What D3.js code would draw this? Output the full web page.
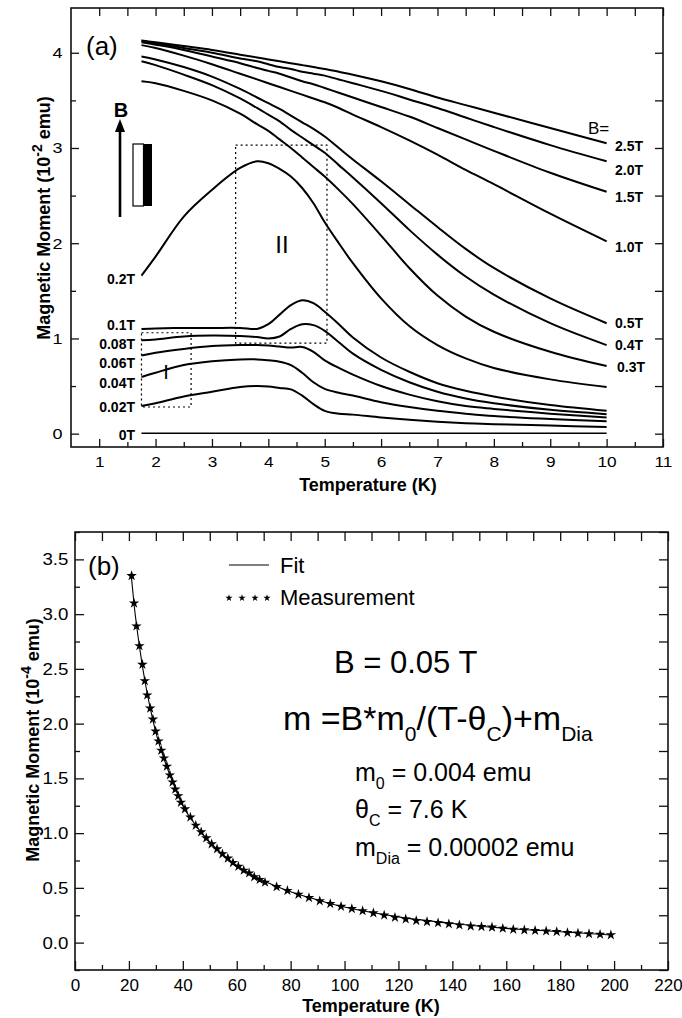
<!DOCTYPE html>
<html>
<head>
<meta charset="utf-8">
<script src="https://cdn.jsdelivr.net/npm/d3@7"></script>
<style>
  body { margin: 0; background: #fff; }
  svg { display: block; }
  text { font-family: "Liberation Sans", Arial, sans-serif; fill: #000; }
</style>
</head>
<body>
<svg id="fig" width="682" height="1018"></svg>
<script>
// ---------------- panel (a): M(T) at different fields ----------------
var tGrid = [1.75, 2, 2.5, 3, 3.5, 3.8, 4, 4.2, 4.4, 4.6, 4.8, 5, 5.25, 5.5, 6, 6.5, 7, 7.5, 8, 9, 10];

var m2p5T = [4.13, 4.11, 4.07, 4.03, 3.98, 3.95, 3.93, 3.91, 3.89, 3.87, 3.85, 3.83, 3.80, 3.77, 3.70, 3.62, 3.53, 3.45, 3.37, 3.21, 3.05];
var m2p0T = [4.125, 4.10, 4.05, 4.00, 3.94, 3.91, 3.88, 3.85, 3.83, 3.80, 3.78, 3.76, 3.72, 3.68, 3.60, 3.51, 3.42, 3.32, 3.22, 3.03, 2.86];
var m1p5T = [4.11, 4.085, 4.03, 3.96, 3.89, 3.84, 3.81, 3.78, 3.74, 3.70, 3.67, 3.63, 3.58, 3.53, 3.43, 3.33, 3.21, 3.09, 2.97, 2.74, 2.54];
var m1p0T = [4.08, 4.05, 3.97, 3.88, 3.78, 3.72, 3.68, 3.64, 3.60, 3.56, 3.52, 3.48, 3.42, 3.35, 3.22, 3.08, 2.93, 2.77, 2.62, 2.31, 2.02];
var m0p5T = [3.96, 3.93, 3.85, 3.75, 3.62, 3.53, 3.47, 3.41, 3.34, 3.27, 3.20, 3.12, 3.00, 2.88, 2.65, 2.41, 2.17, 1.94, 1.74, 1.42, 1.16];
var m0p4T = [3.91, 3.87, 3.77, 3.66, 3.52, 3.42, 3.35, 3.28, 3.19, 3.11, 3.03, 2.95, 2.82, 2.69, 2.42, 2.14, 1.88, 1.65, 1.46, 1.16, 0.93];
var m0p3T = [3.70, 3.68, 3.60, 3.50, 3.36, 3.25, 3.18, 3.09, 3.00, 2.90, 2.80, 2.70, 2.56, 2.41, 2.08, 1.74, 1.45, 1.23, 1.07, 0.86, 0.71];
var m0p2T = [1.66, 1.86, 2.28, 2.56, 2.79, 2.86, 2.84, 2.78, 2.70, 2.58, 2.42, 2.22, 2.00, 1.79, 1.42, 1.13, 0.93, 0.79, 0.69, 0.57, 0.49];
var m0p1T = [1.10, 1.105, 1.11, 1.11, 1.11, 1.10, 1.15, 1.25, 1.35, 1.40, 1.37, 1.28, 1.15, 1.01, 0.80, 0.65, 0.53, 0.45, 0.39, 0.30, 0.24];
var m0p08T = [0.98, 0.99, 1.02, 1.03, 1.025, 1.015, 1.00, 1.02, 1.10, 1.15, 1.14, 1.08, 0.96, 0.84, 0.67, 0.54, 0.44, 0.37, 0.32, 0.25, 0.205];
var m0p06T = [0.82, 0.85, 0.89, 0.92, 0.93, 0.93, 0.925, 0.915, 0.905, 0.91, 0.86, 0.77, 0.69, 0.62, 0.50, 0.41, 0.34, 0.29, 0.26, 0.21, 0.17];
var m0p04T = [0.595, 0.64, 0.72, 0.76, 0.78, 0.78, 0.77, 0.755, 0.72, 0.64, 0.54, 0.47, 0.43, 0.40, 0.33, 0.28, 0.24, 0.21, 0.185, 0.155, 0.13];
var m0p02T = [0.29, 0.32, 0.39, 0.44, 0.49, 0.50, 0.495, 0.48, 0.465, 0.40, 0.31, 0.24, 0.21, 0.20, 0.17, 0.145, 0.125, 0.11, 0.10, 0.085, 0.07];
var m0T = [0.005, 0.005, 0.005, 0.005, 0.005, 0.005, 0.005, 0.005, 0.005, 0.005, 0.005, 0.005, 0.005, 0.005, 0.005, 0.005, 0.005, 0.005, 0.005, 0.005, 0.005];

var fieldNames = ["2.5T", "2.0T", "1.5T", "1.0T", "0.5T", "0.4T", "0.3T", "0.2T", "0.1T", "0.08T", "0.06T", "0.04T", "0.02T", "0T"];
var fieldCurves = [m2p5T, m2p0T, m1p5T, m1p0T, m0p5T, m0p4T, m0p3T, m0p2T, m0p1T, m0p08T, m0p06T, m0p04T, m0p02T, m0T];

// dotted boxes: [T0, T1, m0, m1]
var boxII = [3.42, 5.04, 0.95, 3.03];
var boxI = [1.75, 2.63, 0.28, 1.06];

var xTicksA = [1, 2, 3, 4, 5, 6, 7, 8, 9, 10, 11];
var yTicksA = [0, 1, 2, 3, 4];

// ---------------- panel (b): B = 0.05 T ----------------
var measT = [21.0, 21.9, 22.8, 23.9, 25.0, 25.9, 26.8, 27.9, 28.9, 29.9, 31.0, 32.0, 33.0, 34.1, 35.2, 36.2, 37.2, 38.3, 39.3, 40.8,
  42.8, 44.8, 46.8, 48.7, 50.7, 52.7, 54.7, 56.7, 58.6, 60.6, 62.6, 64.6, 66.5, 68.5, 70.5, 74.8, 78.8, 82.9, 86.8, 90.8,
  94.7, 98.7, 102.7, 106.7, 110.7, 114.7, 118.7, 122.7, 126.6, 130.6, 134.7, 138.7, 142.6, 146.8, 150.8, 154.7, 158.7, 162.6, 166.7, 170.7,
  174.8, 178.7, 182.7, 186.6, 190.7, 194.8, 198.8];
var measM = [3.35, 3.10, 2.89, 2.71, 2.54, 2.39, 2.26, 2.14, 2.04, 1.93, 1.84, 1.755, 1.685, 1.61, 1.53, 1.465, 1.40, 1.34, 1.28, 1.22,
  1.145, 1.07, 1.01, 0.955, 0.90, 0.855, 0.81, 0.77, 0.73, 0.695, 0.66, 0.635, 0.60, 0.575, 0.55, 0.51, 0.475, 0.44, 0.41, 0.38,
  0.355, 0.33, 0.31, 0.29, 0.27, 0.25, 0.23, 0.215, 0.20, 0.19, 0.18, 0.17, 0.16, 0.15, 0.145, 0.14, 0.13, 0.12, 0.115, 0.11,
  0.105, 0.10, 0.09, 0.085, 0.08, 0.075, 0.07];

var fitT = [20.8, 22, 24, 26, 28, 30, 33, 36, 40, 45, 50, 55, 60, 70, 80, 90, 100, 120, 140, 160, 180, 199];
var fitM = [3.37, 3.07, 2.69, 2.38, 2.13, 1.92, 1.68, 1.48, 1.25, 1.065, 0.92, 0.80, 0.705, 0.565, 0.465, 0.39, 0.325, 0.235, 0.175, 0.13, 0.10, 0.07];

var xTicksB = [0, 20, 40, 60, 80, 100, 120, 140, 160, 180, 200, 220];
var yTicksB = [0, 0.5, 1, 1.5, 2, 2.5, 3, 3.5];

// ---------------- drawing ----------------
var svg = d3.select("#fig");

function frameAxes(g, x, y, o) {
  var x0 = x.range()[0], x1 = x.range()[1], y0 = y.range()[0], y1 = y.range()[1];
  var h = y0 - y1, w = x1 - x0;
  function noDomain(sel) { sel.select(".domain").remove(); sel.selectAll("line").attr("stroke", "#111").attr("stroke-width", 1.3); }

  // bottom axis with labels
  var bx = g.append("g").attr("transform", "translate(0," + y0 + ")")
    .call(d3.axisBottom(x).tickValues(o.xTicks).tickSize(-o.major).tickPadding(o.pad).tickFormat(o.xFmt));
  noDomain(bx);
  bx.selectAll("text").attr("font-size", o.fs).attr("transform", "scale(" + o.sxX + ",1)");
  g.append("g").attr("transform", "translate(0," + y0 + ")")
    .call(d3.axisBottom(x).tickValues(o.xMinor).tickSize(-o.minor).tickFormat("")).call(noDomain);
  g.append("g").attr("transform", "translate(0," + y1 + ")")
    .call(d3.axisTop(x).tickValues(o.xTicks.concat(o.xMinor)).tickSize(-o.major).tickFormat("")).call(noDomain);

  var ly = g.append("g").attr("transform", "translate(" + x0 + ",0)")
    .call(d3.axisLeft(y).tickValues(o.yTicks).tickSize(-o.major).tickPadding(o.padY).tickFormat(o.yFmt));
  noDomain(ly);
  ly.selectAll("text").attr("font-size", o.fs).attr("transform", "scale(" + o.sxY + ",1)");
  g.append("g").attr("transform", "translate(" + x0 + ",0)")
    .call(d3.axisLeft(y).tickValues(o.yMinor).tickSize(-o.minor).tickFormat("")).call(noDomain);
  g.append("g").attr("transform", "translate(" + x1 + ",0)")
    .call(d3.axisRight(y).tickValues(o.yTicks.concat(o.yMinor)).tickSize(-o.major).tickFormat("")).call(noDomain);

  g.append("rect").attr("x", x0).attr("y", y1).attr("width", w).attr("height", h)
    .attr("fill", "none").attr("stroke", "#111").attr("stroke-width", 1.6);
}

// ===== panel (a)
var xa = d3.scaleLinear().domain([0.5, 11]).range([71, 663]);
var ya = d3.scaleLinear().domain([-0.14, 4.47]).range([447, 8]);
var ga = svg.append("g");

frameAxes(ga, xa, ya, {
  xTicks: xTicksA, xMinor: d3.range(1.5, 11, 1), yTicks: yTicksA, yMinor: [0.5, 1.5, 2.5, 3.5],
  major: 8, minor: 5, pad: 9, padY: 7, fs: 15, sxX: 1.15, sxY: 1.2,
  xFmt: d3.format("d"), yFmt: d3.format("d")
});

var lineA = d3.line().x(function (d) { return xa(d[0]); }).y(function (d) { return ya(d[1]); })
  .curve(d3.curveCatmullRom.alpha(0.5));

ga.append("g").selectAll("path").data(fieldCurves).enter().append("path")
  .attr("d", function (vals) { return lineA(tGrid.map(function (t, i) { return [t, vals[i]]; })); })
  .attr("fill", "none").attr("stroke", "#000").attr("stroke-width", function (d, i) { return i === 13 ? 1.6 : 2; });

function dotBox(b) {
  ga.append("rect").attr("x", xa(b[0])).attr("y", ya(b[3]))
    .attr("width", xa(b[1]) - xa(b[0])).attr("height", ya(b[2]) - ya(b[3]))
    .attr("fill", "none").attr("stroke", "#000").attr("stroke-width", 1.2).attr("stroke-dasharray", "2,3");
}
dotBox(boxII);
dotBox(boxI);

// field labels
var leftLab = { "0.2T": 279, "0.1T": 325, "0.08T": 344, "0.06T": 363, "0.04T": 383, "0.02T": 407, "0T": 435 };
var rightLab = { "2.5T": 146, "2.0T": 170, "1.5T": 197, "1.0T": 247, "0.5T": 323, "0.4T": 345, "0.3T": 367 };
fieldNames.forEach(function (n) {
  if (leftLab[n] !== undefined) {
    ga.append("text").attr("x", 135).attr("y", leftLab[n] + 5).attr("text-anchor", "end")
      .attr("font-size", 14).attr("font-weight", "bold").text(n);
  } else if (rightLab[n] !== undefined) {
    ga.append("text").attr("x", n === "0.3T" ? 617 : 615).attr("y", rightLab[n] + 5)
      .attr("font-size", 14).attr("font-weight", "bold").text(n);
  }
});
ga.append("text").attr("x", 588).attr("y", 134).attr("font-size", 17).text("B=");

ga.append("text").attr("x", 86).attr("y", 55).attr("font-family", "Liberation Serif, Times New Roman, serif")
  .attr("font-size", 26).text("(a)");
ga.append("text").attr("x", 282).attr("y", 253).attr("text-anchor", "middle")
  .attr("font-family", "Liberation Serif, Times New Roman, serif").attr("font-size", 24).text("II");
ga.append("text").attr("x", 166).attr("y", 379).attr("text-anchor", "middle")
  .attr("font-family", "Liberation Serif, Times New Roman, serif").attr("font-size", 20).text("I");

// field arrow and sample
ga.append("line").attr("x1", 120).attr("x2", 120).attr("y1", 217).attr("y2", 128)
  .attr("stroke", "#000").attr("stroke-width", 2.6);
ga.append("path").attr("d", "M120,119 L115,132 L125,132 Z").attr("fill", "#000");
ga.append("text").attr("x", 121).attr("y", 117).attr("text-anchor", "middle")
  .attr("font-size", 20).attr("font-weight", "bold").text("B");
ga.append("rect").attr("x", 133).attr("y", 144).attr("width", 10.5).attr("height", 62)
  .attr("fill", "#fff").attr("stroke", "#000").attr("stroke-width", 1.2);
ga.append("rect").attr("x", 143.5).attr("y", 144).attr("width", 8.5).attr("height", 62).attr("fill", "#000");

ga.append("text").attr("x", 368).attr("y", 491).attr("text-anchor", "middle")
  .attr("font-size", 18).attr("font-weight", "bold").text("Temperature (K)");
var yta = ga.append("text").attr("transform", "translate(50,218) rotate(-90)").attr("text-anchor", "middle")
  .attr("font-size", 18).attr("font-weight", "bold");
yta.append("tspan").text("Magnetic Moment (10");
yta.append("tspan").attr("dy", -8).attr("font-size", 14).text("-2");
yta.append("tspan").attr("dy", 8).text(" emu)");

// ===== panel (b)
var xb = d3.scaleLinear().domain([0, 220]).range([75, 668]);
var yb = d3.scaleLinear().domain([-0.25, 3.75]).range([970, 532]);
var gb = svg.append("g");

frameAxes(gb, xb, yb, {
  xTicks: xTicksB, xMinor: d3.range(10, 220, 20), yTicks: yTicksB, yMinor: d3.range(-0.25, 3.75, 0.5).concat([3.75]),
  major: 9, minor: 5, pad: 9, padY: 6, fs: 17, sxX: 1.0, sxY: 1.1,
  xFmt: d3.format("d"), yFmt: d3.format(".1f")
});

var lineB = d3.line().x(function (d) { return xb(d[0]); }).y(function (d) { return yb(d[1]); })
  .curve(d3.curveMonotoneX);
gb.append("path").attr("d", lineB(fitT.map(function (t, i) { return [t, fitM[i]]; })))
  .attr("fill", "none").attr("stroke", "#000").attr("stroke-width", 1.1);

var star = d3.symbol().type(d3.symbolStar).size(34);
gb.append("g").selectAll("path").data(measT).enter().append("path")
  .attr("transform", function (t, i) { return "translate(" + xb(t) + "," + yb(measM[i]) + ")"; })
  .attr("d", star).attr("fill", "#000");

// legend
gb.append("line").attr("x1", 229).attr("x2", 269).attr("y1", 565).attr("y2", 565).attr("stroke", "#000").attr("stroke-width", 1.1);
gb.append("text").attr("x", 280).attr("y", 573).attr("font-size", 22).text("Fit");
gb.append("g").selectAll("path").data([229, 242, 255, 267]).enter().append("path")
  .attr("transform", function (d) { return "translate(" + d + ",598)"; })
  .attr("d", d3.symbol().type(d3.symbolStar).size(16)).attr("fill", "#000");
gb.append("text").attr("x", 280).attr("y", 605).attr("font-size", 22).text("Measurement");

gb.append("text").attr("x", 334).attr("y", 673).attr("font-size", 31).text("B = 0.05 T");

function richText(g, x, y, fs, subFs, parts) {
  var t = g.append("text").attr("x", x).attr("y", y).attr("font-size", fs);
  var prevSub = false;
  parts.forEach(function (p) {
    var sub = p.charAt(0) === "_";
    var s = t.append("tspan").text(sub ? p.slice(1) : p);
    if (sub) { s.attr("font-size", subFs).attr("dy", fs * 0.33); }
    else if (prevSub) { s.attr("dy", -fs * 0.33); }
    prevSub = sub;
  });
  return t;
}
richText(gb, 283, 730, 34, 21, ["m =B*m", "_0", "/(T-\u03b8", "_C", ")+m", "_Dia"]);
richText(gb, 355, 781, 25, 16, ["m", "_0", " = 0.004 emu"]);
richText(gb, 355, 818, 25, 16, ["\u03b8", "_C", " = 7.6 K"]);
richText(gb, 355, 856, 25, 16, ["m", "_Dia", " = 0.00002 emu"]);

gb.append("text").attr("x", 88).attr("y", 575).attr("font-family", "Liberation Serif, Times New Roman, serif")
  .attr("font-size", 26).text("(b)");

gb.append("text").attr("x", 371).attr("y", 1012).attr("text-anchor", "middle")
  .attr("font-size", 18).attr("font-weight", "bold").text("Temperature (K)");
var ytb = gb.append("text").attr("transform", "translate(39,740) rotate(-90)").attr("text-anchor", "middle")
  .attr("font-size", 18).attr("font-weight", "bold");
ytb.append("tspan").text("Magnetic Moment (10");
ytb.append("tspan").attr("dy", -8).attr("font-size", 14).text("-4");
ytb.append("tspan").attr("dy", 8).text(" emu)");
</script>
</body>
</html>
